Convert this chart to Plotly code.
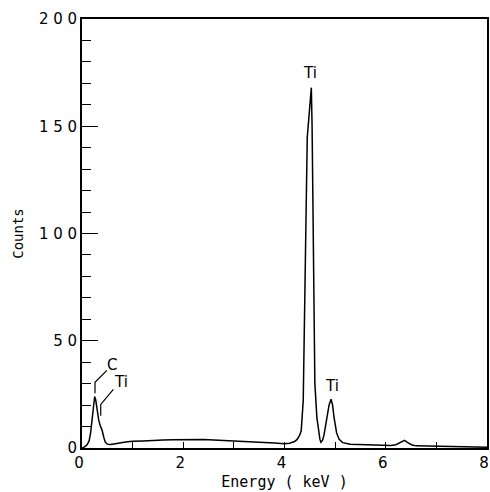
import plotly.graph_objects as go

# ---- spectrum data ----
energy_kev = [0.00, 0.05, 0.10, 0.14, 0.17, 0.20, 0.23, 0.25, 0.27, 0.30, 0.33, 0.36,
              0.40, 0.43, 0.46, 0.50, 0.55, 0.60, 0.70, 0.80, 0.90, 1.00, 1.20, 1.40,
              1.60, 1.80, 2.00, 2.20, 2.40, 2.60, 2.80, 3.00, 3.20, 3.40, 3.60, 3.80,
              4.00, 4.10, 4.20, 4.25, 4.30, 4.33, 4.37, 4.40, 4.43, 4.45, 4.48, 4.50,
              4.53, 4.545, 4.56, 4.58, 4.60, 4.64, 4.67, 4.70, 4.72, 4.75, 4.78, 4.81,
              4.84, 4.88, 4.92, 4.95, 4.98, 5.03, 5.08, 5.15, 5.30, 5.50, 5.70, 5.90,
              6.10, 6.20, 6.28, 6.37, 6.45, 6.52, 6.60, 6.80, 7.00, 7.20, 7.50, 7.80, 8.00]
counts = [0.0, 0.5, 1.5, 3.3, 7.0, 12.8, 19.0, 24.0, 22.5, 17.0, 13.0, 10.5,
          8.0, 5.0, 2.7, 1.8, 1.6, 1.8, 2.3, 2.6, 2.9, 3.2, 3.3, 3.6,
          3.7, 3.8, 3.9, 3.8, 4.0, 3.7, 3.5, 3.4, 3.1, 2.9, 2.6, 2.3,
          2.0, 2.2, 3.0, 4.0, 6.0, 8.0, 22.0, 60.0, 115.0, 145.0, 153.0, 160.0,
          168.0, 150.0, 115.0, 60.0, 30.0, 14.0, 8.0, 4.0, 2.7, 3.5, 6.0, 10.0,
          15.0, 20.0, 22.7, 20.0, 14.0, 7.0, 4.0, 2.5, 1.8, 1.6, 1.4, 1.3,
          1.2, 1.5, 2.4, 3.6, 2.3, 1.4, 1.0, 0.9, 0.8, 0.8, 0.6, 0.5, 0.4]

# ---- axis ticks ----
x_tick_vals = [0, 2, 4, 6, 8]
x_tick_text = ["0", "2", "4", "6", "8"]
y_tick_vals = [0, 50, 100, 150, 200]
y_tick_text = ["0", "5 0", "1 0 0", "1 5 0", "2 0 0"]

# ---- peak labels (text, x, y) and leader lines ----
label_text = ["C", "Ti", "Ti", "Ti"]
label_x = [0.59, 0.77, 4.50, 4.94]
label_y = [38.5, 31.0, 175.0, 29.0]
leader_x = [[0.257, 0.257, 0.49], [0.37, 0.37, 0.62]]
leader_y = [[25.5, 30.6, 36.2], [15.0, 20.3, 27.3]]

FONT = "DejaVu Sans"
MONO = "DejaVu Sans Mono"

fig = go.Figure()
fig.add_trace(go.Scatter(x=energy_kev, y=counts, mode="lines",
                         line=dict(color="black", width=1.5), showlegend=False,
                         hoverinfo="skip"))
for lx, ly in zip(leader_x, leader_y):
    fig.add_trace(go.Scatter(x=lx, y=ly, mode="lines",
                             line=dict(color="black", width=1.2), showlegend=False,
                             hoverinfo="skip"))

for t, x, y in zip(label_text, label_x, label_y):
    fig.add_annotation(x=x, y=y, text=t, showarrow=False,
                       font=dict(family=FONT, size=15, color="black"))

fig.update_layout(
    width=490, height=492,
    margin=dict(l=82, r=3, t=19, b=44),
    paper_bgcolor="white", plot_bgcolor="white",
    font=dict(family=FONT, size=15, color="black"),
    showlegend=False,
)
fig.update_xaxes(
    range=[0, 8], tickvals=x_tick_vals, ticktext=x_tick_text,
    ticks="inside", ticklen=6, tickwidth=1.2, tickcolor="black",
    ticklabelshift=-3,
    minor=dict(dtick=1, ticks="inside", ticklen=6, tickwidth=1.2, tickcolor="black"),
    showline=True, linecolor="black", linewidth=1.8, mirror=True,
    showgrid=False, zeroline=False, automargin=False,
    title=dict(text="Energy ( keV )", standoff=6, font=dict(family=MONO, size=15)),
)
fig.update_yaxes(
    range=[0, 200], tickvals=y_tick_vals, ticktext=y_tick_text,
    ticks="inside", ticklen=16, tickwidth=1.3, tickcolor="black",
    minor=dict(dtick=10, ticks="inside", ticklen=9, tickwidth=1.2, tickcolor="black"),
    showline=True, linecolor="black", linewidth=1.8, mirror=True,
    showgrid=False, zeroline=False, automargin=False,
    title=dict(text="Counts", standoff=12, font=dict(family=MONO, size=14)),
)

fig.write_html("out.html", config={"displayModeBar": False},
               post_script="document.body.style.margin='0';")
